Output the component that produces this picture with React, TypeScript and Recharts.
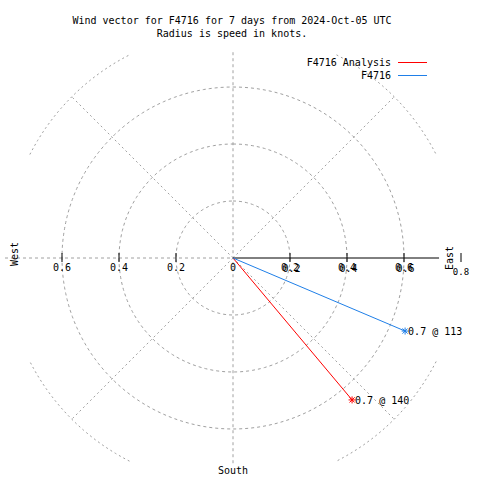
import React from 'react';
import { ScatterChart, Scatter, XAxis, YAxis } from 'recharts';

// ---- data ----
const SERIES_NAMES = ['F4716 Analysis', 'F4716'];
const SPEEDS = [0.65, 0.656]; // knots
const DIRECTIONS = [140, 113]; // degrees, compass
const RING_RADII = [0.2, 0.4, 0.6];
const OUTER_RADIUS = 0.8;
const SPOKE_DIRECTIONS = [45, 135, 225, 315];
const TICK_VALUES = [-0.6, -0.4, -0.2, 0, 0.2, 0.4, 0.6, 0.8];
const TICK_LABELS = ['0.6', '0.4', '0.2', '0', '0.2', '0.4', '0.6', '0.8'];
const COMPASS_LABELS = ['West', 'East', 'South'];
const COMPASS_DIRS = [270, 90, 180];
const TITLE_LINES = [
  'Wind vector for F4716 for 7 days from 2024-Oct-05 UTC',
  'Radius is speed in knots.',
];

// ---- style ----
const COLORS = ['#ff0000', '#1f7fe8'];
const GRID = '#a0a0a0';
const FONT = '"DejaVu Sans Mono", "Liberation Mono", monospace';
const FS = 10;
const AXIS_EXTENT = 0.723;
const VERT_EXTENT = 0.722;
const ARC_HALF = 18;
const COMPASS_R = [0.765, 0.76, 0.745];

const rad = (d: number) => (d * Math.PI) / 180;
const toXY = (dir: number, r: number) => ({ x: r * Math.sin(rad(dir)), y: r * Math.cos(rad(dir)) });

const ringPoints = (r: number) => {
  const pts = [];
  for (let a = 0; a <= 360; a += 2) pts.push(toXY(a, r));
  return pts;
};
const arcPoints = (center: number, r: number) => {
  const pts = [];
  for (let a = center - ARC_HALF; a <= center + ARC_HALF; a += 2) pts.push(toXY(a, r));
  return pts;
};

const Empty = () => <g />;

const TickShape = (props: any) => {
  const { cx, cy, payload } = props;
  const v = payload.x;
  const isEnd = v >= OUTER_RADIUS - 1e-9;
  const doubled = v > 0 && !isEnd;
  return (
    <g>
      {v !== 0 && <line x1={cx} x2={cx} y1={cy - 5} y2={cy + 4} stroke="#000" strokeWidth={1} />}
      <text x={cx} y={cy + (isEnd ? 17 : 13)} textAnchor="middle" fontFamily={FONT} fontSize={isEnd ? 9 : FS} fill="#000">
        {payload.label}
      </text>
      {doubled && (
        <text x={cx + 1.5} y={cy + 14} textAnchor="middle" fontFamily={FONT} fontSize={FS} fill="#000">
          {payload.label}
        </text>
      )}
    </g>
  );
};

const CompassShape = (props: any) => {
  const { cx, cy, payload } = props;
  if (payload.name === 'South') {
    return (
      <text x={cx} y={cy + 4} textAnchor="middle" fontFamily={FONT} fontSize={FS} fill="#000">
        {payload.name}
      </text>
    );
  }
  const yc = payload.name === 'West' ? cy - 4 : cy;
  return (
    <text
      x={cx}
      y={yc}
      textAnchor="middle"
      dominantBaseline="central"
      transform={`rotate(-90 ${cx} ${yc})`}
      fontFamily={FONT}
      fontSize={FS}
      fill="#000"
    >
      {payload.name}
    </text>
  );
};

const makeTipShape = (color: string) => (props: any) => {
  const { cx, cy, payload } = props;
  if (!payload.label) return <g />;
  const s = 3.5;
  const d = 2.6;
  return (
    <g>
      <g stroke={color} strokeWidth={1}>
        <line x1={cx - s} x2={cx + s} y1={cy} y2={cy} />
        <line x1={cx} x2={cx} y1={cy - s} y2={cy + s} />
        <line x1={cx - d} x2={cx + d} y1={cy - d} y2={cy + d} />
        <line x1={cx - d} x2={cx + d} y1={cy + d} y2={cy - d} />
      </g>
      <text x={cx + 3} y={cy + 4} fontFamily={FONT} fontSize={FS} fill="#000">
        {payload.label}
      </text>
    </g>
  );
};

export default function App() {
  const vectors = SPEEDS.map((s, i) => {
    const tip = toXY(DIRECTIONS[i], s);
    return [
      { x: 0, y: 0 },
      { x: tip.x, y: tip.y, label: `${s.toFixed(1)} @ ${DIRECTIONS[i]}` },
    ];
  });
  const ticks = TICK_VALUES.map((v, i) => ({ x: v, y: 0, label: TICK_LABELS[i] }));
  const compass = COMPASS_LABELS.map((n, i) => ({ ...toXY(COMPASS_DIRS[i], COMPASS_R[i]), name: n }));

  return (
    <div style={{ position: 'absolute', left: 0, top: 0, width: 480, height: 480, overflow: 'hidden', background: '#fff' }}>
      <ScatterChart width={480} height={486} margin={{ top: 30, right: 19, bottom: 0, left: 5 }}>
        <XAxis type="number" dataKey="x" domain={[-0.8, 0.8]} hide />
        <YAxis type="number" dataKey="y" domain={[-0.8, 0.8]} hide />
        {RING_RADII.map((r) => (
          <Scatter
            key={`ring${r}`}
            data={ringPoints(r)}
            line={{ stroke: GRID, strokeDasharray: '3 3', strokeWidth: 1 }}
            shape={Empty}
            isAnimationActive={false}
            legendType="none"
          />
        ))}
        {SPOKE_DIRECTIONS.map((d) => (
          <Scatter
            key={`arc${d}`}
            data={arcPoints(d, OUTER_RADIUS)}
            line={{ stroke: GRID, strokeDasharray: '2 3', strokeWidth: 1 }}
            shape={Empty}
            isAnimationActive={false}
            legendType="none"
          />
        ))}
        {SPOKE_DIRECTIONS.map((d) => (
          <Scatter
            key={`spoke${d}`}
            data={[{ x: 0, y: 0 }, toXY(d, OUTER_RADIUS)]}
            line={{ stroke: GRID, strokeDasharray: '2 3', strokeWidth: 1 }}
            shape={Empty}
            isAnimationActive={false}
            legendType="none"
          />
        ))}
        <Scatter
          data={[{ x: 0, y: VERT_EXTENT }, { x: 0, y: -VERT_EXTENT }]}
          line={{ stroke: GRID, strokeDasharray: '3 3', strokeWidth: 1 }}
          shape={Empty}
          isAnimationActive={false}
          legendType="none"
        />
        <Scatter
          data={[{ x: -OUTER_RADIUS, y: 0 }, { x: 0, y: 0 }]}
          line={{ stroke: GRID, strokeDasharray: '3 3', strokeWidth: 1 }}
          shape={Empty}
          isAnimationActive={false}
          legendType="none"
        />
        <Scatter
          data={[{ x: 0, y: 0 }, { x: AXIS_EXTENT, y: 0 }]}
          line={{ stroke: '#000', strokeWidth: 1 }}
          shape={Empty}
          isAnimationActive={false}
          legendType="none"
        />
        <Scatter data={ticks} shape={TickShape} isAnimationActive={false} legendType="none" />
        <Scatter data={compass} shape={CompassShape} isAnimationActive={false} legendType="none" />
        {vectors.map((v, i) => (
          <Scatter
            key={SERIES_NAMES[i]}
            name={SERIES_NAMES[i]}
            data={v}
            line={{ stroke: COLORS[i], strokeWidth: 1 }}
            shape={makeTipShape(COLORS[i])}
            isAnimationActive={false}
          />
        ))}
      </ScatterChart>
      <svg width={480} height={100} style={{ position: 'absolute', left: 0, top: 0, pointerEvents: 'none' }}>
        {TITLE_LINES.map((t, i) => (
          <text key={t} x={232} y={24 + i * 13} textAnchor="middle" fontFamily={FONT} fontSize={FS} fill="#000">
            {t}
          </text>
        ))}
        {SERIES_NAMES.map((n, i) => (
          <g key={n}>
            <text x={391} y={66 + i * 13} textAnchor="end" fontFamily={FONT} fontSize={FS} fill="#000">
              {n}
            </text>
            <line x1={398} x2={427} y1={62.5 + i * 13} y2={62.5 + i * 13} stroke={COLORS[i]} strokeWidth={1} />
          </g>
        ))}
      </svg>
    </div>
  );
}
